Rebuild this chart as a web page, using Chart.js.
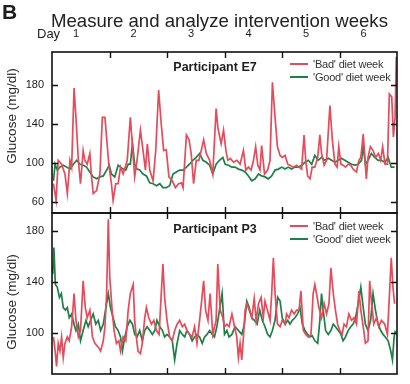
<!DOCTYPE html>
<html><head><meta charset="utf-8">
<script src="https://cdn.jsdelivr.net/npm/chart.js@4.4.1/dist/chart.umd.min.js"></script>
<style>
html,body{margin:0;padding:0;background:#fff;}
#wrap{position:relative;width:410px;height:384px;overflow:hidden;font-family:"Liberation Sans",Arial,sans-serif;color:#1d1d1d;}
canvas{position:absolute;left:0;top:0;}
.t{position:absolute;white-space:nowrap;}
.rot{position:absolute;width:130px;text-align:center;transform:rotate(-90deg);font-size:13.5px;line-height:16px;white-space:nowrap;color:#2a2622;}
.part{position:absolute;width:140px;text-align:center;font-weight:bold;font-size:12.5px;line-height:16px;white-space:nowrap;}
.leg{position:absolute;font-size:11px;line-height:13px;letter-spacing:-0.2px;white-space:nowrap;color:#333;}
.leg i{display:inline-block;width:18px;height:2px;vertical-align:middle;margin-right:5px;position:relative;top:-1px;}
</style></head><body>
<div id="wrap">
<canvas id="c1" width="410" height="384"></canvas>
<canvas id="c2" width="410" height="384"></canvas>
<div class="t" style="left:2px;top:0px;font-size:21px;line-height:24px;font-weight:bold;">B</div>
<div class="t" style="left:51px;top:10px;font-size:18.6px;line-height:22px;color:#222;">Measure and analyze intervention weeks</div>
<div class="t" style="left:37px;top:26px;font-size:13px;line-height:16px;">Day</div>
<div class="rot" style="left:-53px;top:108px;">Glucose (mg/dl)</div>
<div class="rot" style="left:-53px;top:294px;">Glucose (mg/dl)</div>
<div class="part" style="left:145px;top:59px;">Participant E7</div>
<div class="part" style="left:145px;top:221px;">Participant P3</div>
<div class="leg" style="left:290px;top:58px;"><i style="background:#e64b5c"></i>'Bad' diet week</div>
<div class="leg" style="left:290px;top:71px;"><i style="background:#1d8046"></i>'Good' diet week</div>
<div class="leg" style="left:290px;top:220px;"><i style="background:#e64b5c"></i>'Bad' diet week</div>
<div class="leg" style="left:290px;top:233px;"><i style="background:#1d8046"></i>'Good' diet week</div>
</div>
<script>
// ---- data (time in hours since start, glucose in mg/dl) ----
const dayLabels = ['1','2','3','4','5','6'];
const dayLabelHours = [10,34,58,82,106,130];
const dayBoundaryHours = [24,48,72,96,120];
const e7Ticks = [60,100,140,180];
const p3Ticks = [100,140,180];

const e7BadHours = [0.6,1.7,2.6,4.0,5.4,6.4,7.5,8.2,9.2,10.0,11.0,11.9,13.0,13.7,14.7,15.8,16.5,17.2,18.6,20.0,21.0,22.1,23.0,23.7,24.8,25.5,26.6,27.6,28.6,29.7,31.4,32.7,33.6,34.5,35.5,36.9,38.0,39.0,39.8,40.8,42.2,43.3,44.5,45.6,46.6,47.7,48.8,50.2,51.5,52.9,54.0,54.7,56.1,57.2,58.1,59.1,60.2,61.3,62.3,63.3,64.4,65.8,67.1,68.5,69.2,70.6,71.6,
 72.6,73.4,74.4,75.8,77.1,78.5,79.9,80.9,82.0,83.1,84.1,85.0,85.9,86.8,87.5,88.7,90.0,91.0,92.0,93.1,94.1,95.2,96.1,97.3,98.4,99.3,100.7,102.1,103.1,104.2,105.2,105.9,106.7,107.7,108.6,109.7,110.9,111.8,112.5,113.6,114.6,116.0,117.0,118.1,119.0,119.7,120.6,121.5,122.5,123.6,124.7,125.7,127.1,128.1,128.9,129.9,130.6,131.2,131.9,132.9,134.0,135.1,136.2,137.2,138.0,139.0,140.0,140.8,141.8,142.5,143.2,143.7];
const e7BadGlucose = [79,62,103,99,89,69,103,96,177,147,103,79,113,103,99,110,86,69,72,89,147,147,120,99,79,62,79,79,96,89,103,147,117,86,103,134,113,93,120,93,82,113,175,140,113,114,86,82,75,79,80,75,129,124,110,79,103,103,113,124,110,103,89,156,137,120,134,
 113,103,105,101,103,99,113,93,96,93,103,117,98,93,118,89,93,103,183,147,117,108,106,108,99,98,96,98,96,94,129,103,87,84,96,96,106,129,110,98,103,159,124,99,96,117,99,98,96,99,98,94,91,103,106,130,106,84,106,117,113,106,110,103,117,99,99,171,168,127,147,209];

const e7GoodHours = [0.6,1.3,2.2,3.3,4.7,6.1,7.5,8.9,10.3,11.7,13.0,14.4,15.8,17.2,18.6,20.0,21.4,22.8,23.9,24.8,26.2,27.6,28.6,29.7,30.8,31.8,32.7,33.6,34.5,35.5,36.6,38.0,39.4,40.8,42.2,43.6,45.0,46.3,47.7,49.1,50.5,51.9,53.3,54.7,56.1,57.4,58.8,60.2,61.6,63.0,64.4,65.8,67.1,68.5,69.9,71.3,
 72.3,73.7,75.1,76.4,77.8,79.2,80.6,82.0,83.4,84.8,86.2,87.5,88.9,90.3,91.7,93.1,94.5,95.9,97.3,98.6,100.0,101.4,102.8,104.2,105.6,107.0,108.4,109.7,111.1,112.5,113.9,115.3,116.7,118.1,119.5,120.8,122.2,123.6,125.0,126.4,127.8,129.2,129.9,130.8,131.9,133.3,134.7,136.1,137.5,138.9,140.3,141.6,143.0];
const e7GoodGlucose = [82,99,93,96,98,96,94,99,103,99,98,96,91,86,84,86,87,93,98,89,86,98,96,94,93,99,99,120,99,94,93,89,87,80,79,77,79,75,75,77,89,91,93,93,96,99,103,106,110,103,101,98,89,99,103,106,
 99,98,96,96,94,93,91,87,82,84,89,87,86,84,87,93,94,96,94,96,94,96,96,98,101,103,99,108,103,106,103,105,103,101,103,105,103,101,99,98,99,103,118,99,103,110,106,103,103,101,106,96,96];

const p3BadHours = [0.6,1.3,1.9,2.6,3.3,4.0,4.7,5.4,6.4,7.2,8.2,9.2,10.0,11.0,11.9,13.0,13.9,14.7,15.8,16.9,17.9,19.3,20.3,21.4,22.1,22.8,23.5,24.1,25.1,25.9,26.9,27.9,28.6,29.7,30.8,31.8,32.7,33.9,34.5,35.2,35.9,36.9,37.7,38.7,39.4,40.4,41.5,42.5,43.6,44.7,45.6,46.3,47.0,48.0,49.1,50.2,51.2,52.2,53.3,54.4,55.4,56.3,57.4,58.5,59.5,60.5,61.6,62.6,63.3,64.1,65.1,66.0,67.1,68.5,69.2,70.2,71.3,
 72.0,73.0,73.9,75.1,76.2,77.1,77.8,78.5,79.2,79.9,80.6,81.3,82.3,83.4,84.4,85.2,86.2,87.3,88.2,88.9,89.9,91.0,91.7,92.4,93.1,94.1,95.2,96.1,97.3,97.9,98.9,100.0,101.1,102.1,103.1,103.9,104.9,105.9,107.0,108.1,109.0,109.7,110.4,111.4,112.5,113.6,114.6,115.6,116.4,117.4,118.3,119.2,120.1,121.1,121.9,122.9,123.9,125.0,126.1,127.1,128.1,128.9,129.9,130.8,131.9,132.6,133.3,134.3,135.4,136.4,137.5,138.9,140.0,141.0,141.6,142.3,143.0];
const p3BadGlucose = [97,86,74,92,86,97,81,92,97,94,105,131,110,97,102,141,120,112,118,97,92,89,86,94,105,131,189,144,118,102,92,94,86,97,94,118,131,138,110,97,86,84,92,112,120,112,107,110,102,99,131,154,128,110,97,94,102,107,110,105,107,102,99,97,105,92,110,128,141,118,110,131,99,110,154,118,112,
 105,107,105,115,105,97,81,92,79,97,118,123,118,112,127,110,123,128,112,125,118,110,131,159,131,107,105,110,107,115,112,118,115,118,118,133,102,99,97,99,131,138,131,120,112,123,115,123,151,131,118,107,102,99,107,105,115,110,112,107,133,118,105,92,94,141,125,107,112,105,110,107,99,136,159,136,123];

const p3GoodHours = [0.3,0.8,1.4,2.2,3.1,3.9,4.7,5.6,6.4,7.2,8.2,9.2,10.0,11.0,11.9,13.0,14.2,15.1,16.1,17.2,18.3,19.3,20.3,21.4,22.5,23.5,24.4,25.5,26.5,27.6,28.6,29.4,30.4,31.4,32.5,33.6,34.5,35.5,36.6,37.7,38.7,39.7,40.8,41.9,42.9,43.8,45.0,46.1,47.0,48.0,49.1,50.2,51.2,52.2,53.3,54.4,55.4,56.3,57.4,58.5,59.5,60.5,61.6,62.7,63.7,64.7,65.8,66.9,67.8,68.8,69.9,71.0,
 72.0,73.0,73.9,75.1,76.4,77.8,79.2,80.3,81.3,82.3,83.4,84.5,85.6,86.7,87.8,88.9,90.0,91.0,92.0,93.1,94.2,95.2,96.1,97.3,98.4,99.3,100.3,101.4,102.5,103.5,104.5,105.6,106.7,107.7,108.6,109.7,110.9,111.8,112.5,113.2,114.2,115.3,116.4,117.4,118.3,119.5,120.6,121.5,122.5,123.6,124.7,125.7,126.7,127.8,128.9,129.9,130.8,131.9,133.0,134.0,135.0,136.1,137.2,138.2,139.1,140.3,141.4,142.1,142.8,143.3];
const p3GoodGlucose = [146,167,138,136,128,131,120,118,120,112,115,107,102,107,94,102,110,105,110,115,107,110,102,107,120,131,120,112,105,102,97,86,97,105,110,107,99,97,102,94,102,105,102,99,102,110,105,102,97,99,97,94,79,92,102,99,97,102,99,94,97,99,97,92,97,99,102,99,97,105,118,131,
 99,102,97,99,105,102,99,107,125,120,112,110,107,118,110,105,99,97,102,110,128,125,112,107,110,107,110,112,115,120,107,102,99,97,98,94,92,110,131,118,102,99,102,107,105,102,99,94,97,102,105,107,112,123,136,120,107,102,110,131,118,107,102,99,97,94,86,79,97,102];

const RED = '#e64b5c';
const GREEN = '#1d8046';
const FONT = '"Liberation Sans", Arial, sans-serif';

function pts(xs, ys){
  const n = Math.min(xs.length, ys.length);
  const out = [];
  for (let i=0;i<n;i++) out.push({x:xs[i], y:ys[i]});
  return out;
}

const framePlugin = {
  id:'frame',
  afterDatasetsDraw(chart, args, opts){
    const {ctx, chartArea:{left,right,top,bottom}, scales:{x,y}} = chart;
    ctx.save();
    ctx.strokeStyle = '#111';
    ctx.lineWidth = 1.6;
    ctx.strokeRect(left, top, right-left, bottom-top);
    ctx.lineWidth = 1.4;
    ctx.beginPath();
    for (const h of dayBoundaryHours){
      const px = Math.round(x.getPixelForValue(h))+0.5;
      ctx.moveTo(px, top); ctx.lineTo(px, top+6);
      ctx.moveTo(px, bottom); ctx.lineTo(px, bottom-6);
    }
    for (const v of opts.yTicks){
      const py = Math.round(y.getPixelForValue(v))+0.5;
      ctx.moveTo(left, py); ctx.lineTo(left+6, py);
      ctx.moveTo(right, py); ctx.lineTo(right-6, py);
    }
    ctx.stroke();
    ctx.restore();
  }
};

function makeChart(id, bad, good, yMin, yMax, yTicks, isTop){
  return new Chart(document.getElementById(id), {
    type:'line',
    data:{datasets:[
      {label:"'Bad' diet week", data:bad, borderColor:RED, borderWidth:1.7, pointRadius:0, tension:0, fill:false},
      {label:"'Good' diet week", data:good, borderColor:GREEN, borderWidth:1.7, pointRadius:0, tension:0, fill:false}
    ]},
    options:{
      responsive:false, animation:false, events:[],
      layout:{padding: isTop ? {left:0,right:13,top:0,bottom:171} : {left:0,right:13,top:213,bottom:10}},
      plugins:{legend:{display:false}, tooltip:{enabled:false}, frame:{yTicks}},
      scales:{
        x:{
          type:'linear', min:0, max:144, position:'top', display:isTop,
          grid:{display:false, drawTicks:false}, border:{display:false},
          afterBuildTicks:(s)=>{ s.ticks = dayLabelHours.map(v=>({value:v})); },
          afterFit:(s)=>{ s.height = isTop ? 52 : 0; s.paddingLeft = 0; s.paddingRight = 0; },
          ticks:{autoSkip:false, maxRotation:0, padding:11, color:'#1d1d1d',
                 font:{family:FONT, size:11},
                 callback:(v,i)=>dayLabels[i]}
        },
        y:{
          type:'linear', min:yMin, max:yMax,
          grid:{display:false, drawTicks:false}, border:{display:false},
          afterBuildTicks:(s)=>{ s.ticks = yTicks.map(v=>({value:v})); },
          afterFit:(s)=>{ s.width = 52; s.paddingTop = 0; s.paddingBottom = 0; },
          ticks:{padding:8, color:'#1d1d1d', font:{family:FONT, size:11}}
        }
      }
    },
    plugins:[framePlugin]
  });
}

makeChart('c1', pts(e7BadHours,e7BadGlucose), pts(e7GoodHours,e7GoodGlucose), 49, 214, e7Ticks, true);
makeChart('c2', pts(p3BadHours,p3BadGlucose), pts(p3GoodHours,p3GoodGlucose), 68, 194, p3Ticks, false);
</script>
</body></html>
